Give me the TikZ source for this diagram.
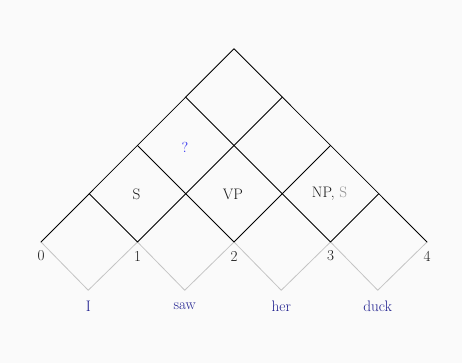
\documentclass[tikz,border=0pt]{standalone}
\usepackage{fontspec}
\usetikzlibrary{calc}
\definecolor{bgc}{HTML}{FAFAFA}
\definecolor{wordc}{HTML}{1E1E8E}
\definecolor{qc}{HTML}{3535F0}
\definecolor{greyS}{HTML}{909090}
\definecolor{lowline}{HTML}{C4C4C4}
\tikzset{
  grid/.style={black, line width=0.8pt, line cap=round, line join=round},
  lower/.style={lowline, line width=0.8pt, line join=round},
  lbl/.style={inner sep=1pt, font=\fontsize{15.2}{18}\selectfont},
  idx/.style={lbl, text=black!90},
  word/.style={lbl, text=wordc},
  cell/.style={lbl, text=black!90},
  qcell/.style={lbl, text=qc, font=\fontsize{14.5}{17}\selectfont}
}
\begin{document}
\begin{tikzpicture}[x=1pt,y=-1pt]
\fill[bgc] (0,0) rectangle (462,363);
\useasboundingbox (0,0) rectangle (462,363);
% base points
\foreach \i in {0,...,4}{
  \coordinate (p\i) at ({41+96.5*\i},242);
}
% lower midpoints
\foreach \i in {0,...,3}{
  \coordinate (m\i) at ({88.25+96.5*\i},290.25);
}
% left and right edge points
\foreach \k in {1,...,3}{
  \coordinate (L\k) at ({41+48.25*\k},{242-48.25*\k});
  \coordinate (R\k) at ({41+96.5*\k+48.25*(4-\k)},{242-48.25*(4-\k)});
}
\coordinate (apex) at (234,48.75);
% gray lower zigzag
\draw[lower] (p0) -- (m0) -- (p1) -- (m1) -- (p2) -- (m2) -- (p3) -- (m3) -- (p4);
% triangle and grid
\draw[grid] (p0) -- (apex) -- (p4);
\foreach \k in {1,...,3}{
  \draw[grid] (L\k) -- (p\k) -- (R\k);
}
% indices
\foreach \i in {0,...,4}{
  \node[idx] (n\i) at ($(p\i)+(0,14)$) {\i};
}
% words
\node[word] (w0) at ($(m0)+(0,16)$) {I};
\node[word] (w1) at ($(m1)+(0,16)$) {saw};
\node[word] (w2) at ($(m2)+(0,16)$) {her};
\node[word] (w3) at ($(m3)+(0,16)$) {duck};
% cells
\node[cell] (c02) at (136.5,194) {S};
\node[cell] (c13) at (233,194) {VP};
\node[cell] (c24) at (329.5,194) {NP, \textcolor{greyS}{S}};
\node[qcell] (c03) at (185,147) {?};
\end{tikzpicture}
\end{document}
